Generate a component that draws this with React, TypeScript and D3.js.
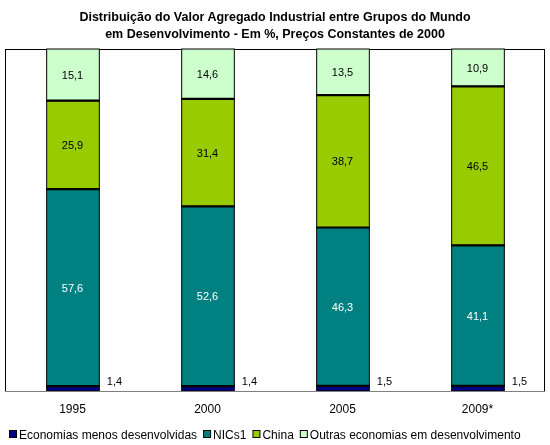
import { useEffect, useRef } from "react";
import * as d3 from "d3";

const categories = ["1995", "2000", "2005", "2009*"];
const seriesNames = [
  "Economias menos desenvolvidas",
  "NICs1",
  "China",
  "Outras economias em desenvolvimento",
];
const menosDesenvolvidas = [1.4, 1.4, 1.5, 1.5];
const nics = [57.6, 52.6, 46.3, 41.1];
const china = [25.9, 31.4, 38.7, 46.5];
const outras = [15.1, 14.6, 13.5, 10.9];
const colors = ["#000080", "#008080", "#99CC00", "#CCFFCC"];
const labelColors = ["#000", "#fff", "#000", "#000"];
const titleLines = [
  "Distribuição do Valor Agregado Industrial entre Grupos do Mundo",
  "em Desenvolvimento - Em %, Preços Constantes de 2000",
];

const W = 550;
const H = 445;
const font = "Arial, 'Liberation Sans', sans-serif";

export default function App() {
  const svgRef = useRef<SVGSVGElement | null>(null);

  useEffect(() => {
    const svg = d3.select(svgRef.current);
    svg.selectAll("*").remove();

    const margin = { top: 49, right: 5, bottom: 54, left: 5 };
    const x = d3
      .scaleBand()
      .domain(categories)
      .range([margin.left, W - margin.right])
      .paddingInner(0.61)
      .paddingOuter(0.305);
    const y = d3.scaleLinear().domain([0, 100]).range([H - margin.bottom, margin.top]);

    const table = categories.map((c, i) => ({
      cat: c,
      s0: menosDesenvolvidas[i],
      s1: nics[i],
      s2: china[i],
      s3: outras[i],
    }));
    const stacked = d3.stack<any>().keys(["s0", "s1", "s2", "s3"])(table);

    // title
    svg
      .append("g")
      .selectAll("text")
      .data(titleLines)
      .join("text")
      .attr("x", W / 2)
      .attr("y", (_d, i) => 21 + i * 17)
      .attr("text-anchor", "middle")
      .attr("font-family", font)
      .attr("font-size", 12.5)
      .attr("font-weight", "bold")
      .text((d) => d);

    // plot frame
    svg
      .append("rect")
      .attr("x", margin.left + 0.5)
      .attr("y", margin.top + 0.5)
      .attr("width", W - margin.left - margin.right - 1)
      .attr("height", H - margin.top - margin.bottom)
      .attr("fill", "#fff")
      .attr("stroke", "#000");

    const layers = svg
      .append("g")
      .selectAll("g")
      .data(stacked)
      .join("g")
      .attr("fill", (_d, i) => colors[i]);

    layers
      .selectAll("rect")
      .data((d) => d)
      .join("rect")
      .attr("x", (d: any) => x(d.data.cat)! + 0.5)
      .attr("y", (d) => y(d[1]))
      .attr("width", x.bandwidth())
      .attr("height", (d) => y(d[0]) - y(d[1]))
      .attr("stroke", "#000")
      .attr("stroke-width", 1);

    // thicker separators between segments
    svg
      .append("g")
      .selectAll("g")
      .data(stacked.slice(0, 3))
      .join("g")
      .selectAll("line")
      .data((d) => d)
      .join("line")
      .attr("x1", (d: any) => x(d.data.cat)!)
      .attr("x2", (d: any) => x(d.data.cat)! + x.bandwidth() + 1)
      .attr("y1", (d) => y(d[1]))
      .attr("y2", (d) => y(d[1]))
      .attr("stroke", "#000")
      .attr("stroke-width", 2.2);

    // data labels
    stacked.forEach((layer, li) => {
      svg
        .append("g")
        .selectAll("text")
        .data(layer)
        .join("text")
        .attr("x", (d: any) =>
          li === 0 ? x(d.data.cat)! + x.bandwidth() + 8 : x(d.data.cat)! + x.bandwidth() / 2
        )
        .attr("y", (d) => (li === 0 ? y(d[0]) - 6 : (y(d[0]) + y(d[1])) / 2 + 4))
        .attr("text-anchor", li === 0 ? "start" : "middle")
        .attr("font-family", font)
        .attr("font-size", 11)
        .attr("fill", labelColors[li])
        .text((d) => d3.format(".1f")(d[1] - d[0]).replace(".", ","));
    });

    // bottom axis line
    svg
      .append("line")
      .attr("x1", margin.left)
      .attr("x2", W - margin.right)
      .attr("y1", y(0) + 0.5)
      .attr("y2", y(0) + 0.5)
      .attr("stroke", "#808080");

    // category labels
    svg
      .append("g")
      .selectAll("text")
      .data(categories)
      .join("text")
      .attr("x", (d) => x(d)! + x.bandwidth() / 2)
      .attr("y", 413)
      .attr("text-anchor", "middle")
      .attr("font-family", font)
      .attr("font-size", 12)
      .text((d) => d);

    // legend
    const legend = svg.append("g").attr("transform", "translate(9,430)");
    let lx = 0;
    seriesNames.forEach((name, i) => {
      legend
        .append("rect")
        .attr("x", lx + 0.5)
        .attr("y", 0.5)
        .attr("width", 7)
        .attr("height", 7)
        .attr("fill", colors[i])
        .attr("stroke", "#000");
      const t = legend
        .append("text")
        .attr("x", lx + 10)
        .attr("y", 8.5)
        .attr("font-family", font)
        .attr("font-size", 12)
        .text(name);
      const w = (t.node() as SVGTextElement).getComputedTextLength();
      lx += 10 + w + 6;
    });
  }, []);

  return (
    <div style={{ position: "fixed", left: 0, top: 0 }}>
      <svg ref={svgRef} width={W} height={H} style={{ display: "block" }} />
    </div>
  );
}
